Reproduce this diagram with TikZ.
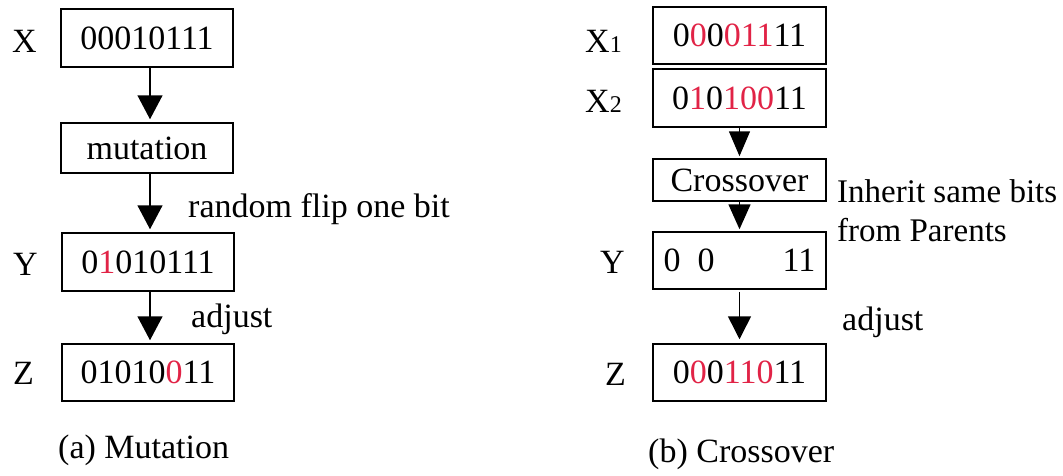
\documentclass[tikz,border=0pt]{standalone}
\usepackage{fontspec}
\setmainfont{Liberation Serif}
\usetikzlibrary{arrows.meta}
\definecolor{bitred}{RGB}{225,35,70}
\newcommand{\rd}[1]{\textcolor{bitred}{#1}}
\begin{document}
\begin{tikzpicture}[x=1pt,y=-1pt,
  bitbox/.style={draw,line width=1.5pt,inner sep=0pt,minimum width=172pt,minimum height=57pt},
  lbl/.style={anchor=base west,inner sep=0pt},
  flow/.style={line width=1.5pt,-{Triangle[width=25pt,length=24pt]},shorten >=3pt},
  every node/.style={font=\fontsize{34}{39}\selectfont}]
\useasboundingbox (0,0) rectangle (1063,475);
% ---- (a) Mutation ----
\node[bitbox,minimum height=58pt] (aX) at (147,38) {00010111};
\node[bitbox,minimum height=50pt] (aM) at (147,148) {mutation};
\node[bitbox,minimum height=58pt] (aY) at (148,262) {0\rd{1}010111};
\node[bitbox] (aZ) at (148,372.5) {01010\rd{0}11};
\node[lbl] (aXl) at (12,52) {X};
\node[lbl] (aYl) at (13,275) {Y};
\node[lbl] (aZl) at (13,384) {Z};
\node[lbl] (aflip) at (188,217) {random flip one bit};
\node[lbl] (aadj) at (191,327) {adjust};
\node[lbl] (acap) at (58,458) {(a) Mutation};
\draw[flow] ([xshift=3pt]aX.south) -- ([xshift=3pt]aM.north);
\draw[flow] ([xshift=3pt]aM.south) -- ([xshift=2pt]aY.north);
\draw[flow] ([xshift=2pt]aY.south) -- ([xshift=2pt]aZ.north);
% ---- (b) Crossover ----
\node[bitbox,minimum width=173pt] (b1) at (739.5,35.5) {0\rd{0}0\rd{011}11};
\node[bitbox,minimum width=173pt,minimum height=58pt] (b2) at (739.5,98) {0\rd{1}0\rd{100}11};
\node[bitbox,minimum width=173pt,minimum height=42pt] (bC) at (739.5,180) {Crossover};
\node[bitbox,minimum width=173pt] (bY) at (739.5,260.5) {0\phantom{0}0\phantom{0000}11};
\node[bitbox,minimum width=173pt] (bZ) at (739.5,372.5) {0\rd{0}0\rd{110}11};
\node[lbl] (bX1l) at (585,52) {X{\fontsize{24}{26}\selectfont 1}};
\node[lbl] (bX2l) at (585,112) {X{\fontsize{24}{26}\selectfont 2}};
\node[lbl] (bYl) at (600,273) {Y};
\node[lbl] (bZl) at (605,385) {Z};
\node[lbl,font=\fontsize{33}{38}\selectfont] (binh1) at (837,202) {Inherit same bits};
\node[lbl,font=\fontsize{33}{38}\selectfont] (binh2) at (837,241) {from Parents};
\node[lbl] (badj) at (842,330) {adjust};
\node[lbl] (bcap) at (648,462) {(b) Crossover};
\draw[flow,-{Triangle[width=21pt,length=25pt]},shorten >=2pt] (b2.south) -- (bC.north);
\draw[flow,-{Triangle[width=22pt,length=25pt]},shorten >=2pt] (bC.south) -- (bY.north);
\draw[flow,shorten <=2pt,-{Triangle[width=23pt,length=23pt]},shorten >=4pt] (bY.south) -- (bZ.north);
\end{tikzpicture}
\end{document}
